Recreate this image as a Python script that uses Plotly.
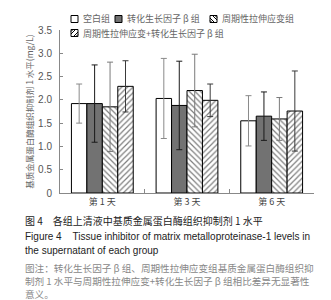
import plotly.graph_objects as go

categories = ["第 1 天", "第 3 天", "第 6 天"]
series_names = ["空白组", "转化生长因子 β 组", "周期性拉伸应变组", "周期性拉伸应变+转化生长因子 β 组"]
blank_vals = [1.92, 2.03, 1.55]
blank_err = [0.42, 0.86, 0.54]
tgf_vals = [1.92, 1.88, 1.65]
tgf_err = [0.83, 0.95, 0.52]
stretch_vals = [1.85, 2.20, 1.59]
stretch_err = [0.96, 0.78, 0.46]
combo_vals = [2.29, 1.99, 1.76]
combo_err = [0.55, 0.35, 0.86]
y_ticks = [0, 0.5, 1.0, 1.5, 2.0, 2.5, 3.0, 3.5]
y_ticktext = ["0", "0.5", "1.0", "1.5", "2.0", "2.5", "3.0", "3.5"]

W, H = 331, 300
L, R, T, B = 52, 25, 22, 115
PW, PH = W - L - R, H - T - B


def px(x):
    return (x - L) / PW


def py(y):
    return (H - B - y) / PH


CJK = "Noto Sans CJK SC"
LAT = "Liberation Sans"

styles = [
    dict(fill="white", pattern=None, err="#8a8a8a"),
    dict(fill="#727272", pattern=None, err="#1a1a1a"),
    dict(fill="white", pattern="\\", err="#7a7a7a"),
    dict(fill="white", pattern="/", err="#3a3a3a"),
]
vals = [blank_vals, tgf_vals, stretch_vals, combo_vals]
errs = [blank_err, tgf_err, stretch_err, combo_err]

fig = go.Figure()
for name, v, e, st in zip(series_names, vals, errs, styles):
    marker = dict(color=st["fill"], line=dict(color="black", width=1))
    if st["pattern"]:
        marker["pattern"] = dict(shape=st["pattern"], fgcolor="black", bgcolor="white",
                                 size=4, solidity=0.3, fillmode="overlay")
    fig.add_trace(go.Bar(
        x=categories, y=v, name=name, marker=marker,
        error_y=dict(type="data", array=e, visible=True, color=st["err"],
                     thickness=1, width=3),
        showlegend=False,
    ))

fig.update_layout(
    width=W, height=H, autosize=False,
    margin=dict(l=L, r=R, t=T, b=B, pad=0),
    paper_bgcolor="white", plot_bgcolor="white",
    barmode="group", bargap=0.27, bargroupgap=0,
    font=dict(family=CJK, size=9, color="#555"),
)
fig.update_yaxes(
    range=[0, 3.5], tickvals=y_ticks, ticktext=y_ticktext,
    showline=True, linecolor="#888", linewidth=1, ticks="inside", ticklen=3,
    tickcolor="#888", tickfont=dict(family=LAT, size=10, color="#555"),
    ticklabelstandoff=5,
    showgrid=False, zeroline=False, automargin=False,
    title=dict(text="基质金属蛋白酶组织抑制剂 1 水平(mg/L)", standoff=3,
               font=dict(family=CJK, size=8.5, color="#666")),
)
fig.update_xaxes(
    showline=True, linecolor="#888", linewidth=1, ticks="inside", ticklen=4,
    tickson="boundaries", tickcolor="#888", automargin=False,
    tickfont=dict(family=CJK, size=9, color="#444"), showgrid=False,
)

# legend (manual)
shapes = []
legend_items = [
    (63, 11, 0), (107, 11, 1), (202, 11, 2), (63, 25, 3),
]
for (lx, ly, idx) in legend_items:
    st = styles[idx]
    s = 7
    x0, x1 = px(lx), px(lx + s)
    y0, y1 = py(ly + s / 2), py(ly - s / 2)
    shapes.append(dict(type="rect", xref="paper", yref="paper", x0=x0, x1=x1, y0=y0, y1=y1,
                       line=dict(color="black", width=1), fillcolor=st["fill"]))
    if st["pattern"] == "\\":
        for d in (2.5, 5):
            shapes.append(dict(type="line", xref="paper", yref="paper",
                               x0=px(lx), y0=py(ly - s / 2 + d), x1=px(lx + s - d), y1=py(ly + s / 2),
                               line=dict(color="black", width=1)))
            shapes.append(dict(type="line", xref="paper", yref="paper",
                               x0=px(lx + d), y0=py(ly - s / 2), x1=px(lx + s), y1=py(ly + s / 2 - d),
                               line=dict(color="black", width=1)))
    elif st["pattern"] == "/":
        for d in (2.5, 5):
            shapes.append(dict(type="line", xref="paper", yref="paper",
                               x0=px(lx), y0=py(ly + s / 2 - d), x1=px(lx + s - d), y1=py(ly - s / 2),
                               line=dict(color="black", width=1)))
            shapes.append(dict(type="line", xref="paper", yref="paper",
                               x0=px(lx + d), y0=py(ly + s / 2), x1=px(lx + s), y1=py(ly - s / 2 + d),
                               line=dict(color="black", width=1)))
    fig.add_annotation(x=px(lx + s + 3), y=py(ly), xref="paper", yref="paper",
                       text=series_names[idx], showarrow=False, xanchor="left", yanchor="middle",
                       font=dict(family=CJK, size=9, color="#666"))
fig.update_layout(shapes=shapes)

# caption
caption = [
    (213, "图 4　各组上清液中基质金属蛋白酶组织抑制剂 1 水平", CJK, 10, "#222"),
    (228, "Figure 4    Tissue inhibitor of matrix metalloproteinase-1 levels in", LAT, 10, "#222"),
    (242, "the supernatant of each group", LAT, 10, "#222"),
    (259.5, "图注：转化生长因子 β 组、周期性拉伸应变组基质金属蛋白酶组织抑", CJK, 9.6, "#888"),
    (273, "制剂 1 水平与周期性拉伸应变+转化生长因子 β 组相比差异无显著性", CJK, 9.6, "#888"),
    (286, "意义。", CJK, 9.6, "#888"),
]
for (cy, txt, fam, sz, col) in caption:
    fig.add_annotation(x=px(16), y=py(cy), xref="paper", yref="paper", text=txt,
                       showarrow=False, xanchor="left", yanchor="middle", borderpad=0,
                       font=dict(family=fam, size=sz, color=col))

fig.write_html("out.html")
